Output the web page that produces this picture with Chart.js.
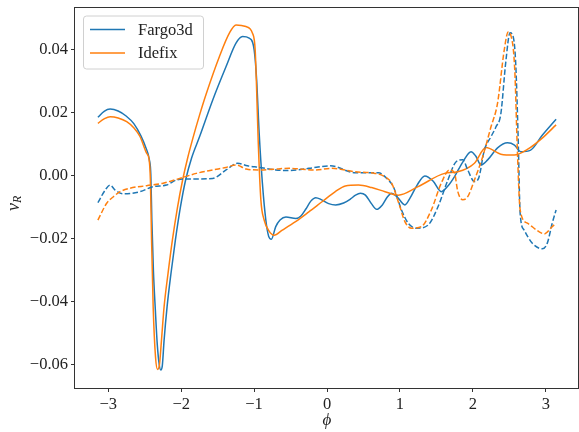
<!DOCTYPE html>
<html>
<head>
<meta charset="utf-8">
<script src="https://cdn.jsdelivr.net/npm/chart.js@4.4.1/dist/chart.umd.min.js"></script>
<style>
  html, body { margin: 0; padding: 0; background: #fff; overflow: hidden; }
</style>
</head>
<body>
<canvas id="vrChart" width="579" height="432"></canvas>
<script>
// radial velocity along phi, two codes, two snapshots (solid / dashed)
const fargoPhi = [-3.142, -3.056, -2.974, -2.864, -2.755, -2.647, -2.552, -2.484, -2.436, -2.416, -2.402, -2.381, -2.354, -2.327, -2.300, -2.279, -2.259, -2.234, -2.193, -2.139, -2.079, -2.011, -1.939, -1.857, -1.748, -1.567, -1.384, -1.248, -1.158, -1.067, -0.999, -0.965, -0.930, -0.886, -0.839, -0.801, -0.763, -0.703, -0.644, -0.563, -0.426, -0.358, -0.290, -0.222, -0.154, -0.072, 0.023, 0.119, 0.228, 0.323, 0.391, 0.459, 0.527, 0.609, 0.681, 0.759, 0.827, 0.886, 0.963, 1.068, 1.140, 1.236, 1.341, 1.454, 1.567, 1.658, 1.749, 1.862, 1.975, 2.040, 2.112, 2.203, 2.339, 2.475, 2.571, 2.657, 2.793, 2.952, 3.142];
const fargoVr = [0.0184, 0.0203, 0.0210, 0.0204, 0.0188, 0.0163, 0.0125, 0.0087, 0.0049, 0.0001, -0.0142, -0.0301, -0.0428, -0.0539, -0.0602, -0.0618, -0.0605, -0.0523, -0.0417, -0.0310, -0.0205, -0.0102, -0.0015, 0.0055, 0.0122, 0.0239, 0.0345, 0.0419, 0.0440, 0.0435, 0.0398, 0.0303, 0.0133, -0.0025, -0.0142, -0.0193, -0.0203, -0.0163, -0.0142, -0.0132, -0.0137, -0.0129, -0.0107, -0.0082, -0.0071, -0.0078, -0.0090, -0.0094, -0.0088, -0.0075, -0.0063, -0.0057, -0.0063, -0.0090, -0.0108, -0.0094, -0.0069, -0.0057, -0.0069, -0.0094, -0.0072, -0.0031, -0.0002, -0.0018, -0.0052, -0.0034, -0.0004, 0.0042, 0.0075, 0.0061, 0.0033, 0.0049, 0.0087, 0.0103, 0.0096, 0.0075, 0.0080, 0.0127, 0.0178];

const idefixPhi = [-3.142, -3.056, -2.974, -2.864, -2.747, -2.647, -2.565, -2.474, -2.439, -2.422, -2.406, -2.384, -2.352, -2.324, -2.300, -2.270, -2.234, -2.180, -2.120, -2.052, -1.980, -1.911, -1.839, -1.748, -1.657, -1.475, -1.339, -1.248, -1.112, -1.022, -0.985, -0.965, -0.944, -0.907, -0.862, -0.794, -0.726, -0.613, -0.431, -0.249, -0.068, 0.114, 0.251, 0.432, 0.613, 0.796, 0.977, 1.249, 1.613, 1.794, 2.022, 2.180, 2.384, 2.567, 2.748, 2.952, 3.142];
const idefixVr = [0.0165, 0.0179, 0.0186, 0.0182, 0.0170, 0.0150, 0.0123, 0.0070, 0.0049, -0.0015, -0.0205, -0.0417, -0.0576, -0.0616, -0.0605, -0.0523, -0.0417, -0.0311, -0.0205, -0.0104, -0.0015, 0.0055, 0.0118, 0.0191, 0.0258, 0.0377, 0.0451, 0.0477, 0.0472, 0.0451, 0.0398, 0.0271, 0.0112, -0.0078, -0.0142, -0.0177, -0.0190, -0.0174, -0.0147, -0.0116, -0.0084, -0.0052, -0.0034, -0.0031, -0.0039, -0.0052, -0.0063, -0.0036, 0.0006, 0.0011, 0.0038, 0.0088, 0.0067, 0.0064, 0.0082, 0.0118, 0.0160];

const fargoPhi2 = [-3.142, -3.042, -2.974, -2.906, -2.793, -2.565, -2.384, -2.202, -2.065, -1.929, -1.567, -1.384, -1.226, -1.090, -0.930, -0.703, -0.522, -0.249, 0.046, 0.387, 0.704, 0.841, 0.909, 1.022, 1.113, 1.226, 1.386, 1.522, 1.658, 1.771, 1.862, 1.930, 2.022, 2.080, 2.158, 2.248, 2.316, 2.384, 2.452, 2.510, 2.557, 2.589, 2.621, 2.649, 2.703, 2.816, 2.952, 3.020, 3.089, 3.142];
const fargoVr2 = [-0.0087, -0.0047, -0.0031, -0.0047, -0.0059, -0.0052, -0.0036, -0.0031, -0.0015, -0.0012, -0.0010, 0.0017, 0.0038, 0.0030, 0.0025, 0.0017, 0.0015, 0.0022, 0.0030, 0.0008, 0.0008, -0.0015, -0.0036, -0.0110, -0.0152, -0.0168, -0.0158, -0.0100, -0.0015, 0.0043, 0.0049, 0.0017, -0.0020, -0.0009, 0.0080, 0.0122, 0.0153, 0.0195, 0.0360, 0.0452, 0.0436, 0.0350, 0.0123, -0.0121, -0.0174, -0.0216, -0.0233, -0.0216, -0.0152, -0.0110];

const idefixPhi2 = [-3.142, -3.019, -2.929, -2.838, -2.702, -2.474, -2.248, -2.020, -1.793, -1.567, -1.384, -1.248, -1.108, -0.930, -0.749, -0.522, -0.158, 0.068, 0.387, 0.659, 0.772, 0.886, 1.000, 1.068, 1.158, 1.294, 1.431, 1.567, 1.681, 1.749, 1.794, 1.862, 1.930, 2.022, 2.135, 2.248, 2.339, 2.431, 2.485, 2.520, 2.575, 2.612, 2.649, 2.748, 2.907, 2.980, 3.089, 3.142];
const idefixVr2 = [-0.0142, -0.0088, -0.0068, -0.0052, -0.0041, -0.0033, -0.0025, -0.0010, 0.0006, 0.0017, 0.0025, 0.0033, 0.0020, 0.0017, 0.0019, 0.0022, 0.0017, 0.0022, 0.0011, 0.0006, -0.0002, -0.0025, -0.0100, -0.0147, -0.0168, -0.0163, -0.0110, -0.0025, 0.0017, 0.0007, -0.0052, -0.0078, -0.0068, -0.0015, 0.0059, 0.0153, 0.0229, 0.0398, 0.0455, 0.0445, 0.0334, 0.0070, -0.0110, -0.0152, -0.0179, -0.0186, -0.0163, -0.0152];

const xTicks = [-3, -2, -1, 0, 1, 2, 3];
const yTicks = [-0.06, -0.04, -0.02, 0.00, 0.02, 0.04];

const BLUE = '#1f77b4';
const ORANGE = '#ff7f0e';
const SERIF = "'Liberation Serif', 'DejaVu Serif', serif";

function toPoints(xs, ys) {
    return xs.map((x, i) => ({ x: x, y: ys[i] }));
}

function minus(s) {
    return s.replace('-', '\u2212');
}

function line(label, xs, ys, color, dashed, order) {
    return {
        label: label,
        data: toPoints(xs, ys),
        borderColor: color,
        backgroundColor: color,
        borderWidth: 1.5,
        borderDash: dashed ? [5.5, 2.4] : [],
        pointRadius: 0,
        cubicInterpolationMode: 'monotone',
        fill: false,
        order: order
    };
}

// frame, hand-drawn legend and the v_R axis label
const decor = {
    id: 'decor',
    afterDatasetsDraw(chart) {
        const ctx = chart.ctx;
        const a = chart.chartArea;
        ctx.save();

        ctx.strokeStyle = '#333';
        ctx.lineWidth = 1;
        ctx.strokeRect(Math.round(a.left) - 0.5, Math.round(a.top) + 0.5,
            a.right - a.left, a.bottom - a.top);

        // legend box
        const bx = a.left + 8, by = a.top + 8.5, bw = 120, bh = 53;
        ctx.beginPath();
        ctx.roundRect(bx + 0.5, by + 0.5, bw, bh, 3);
        ctx.fillStyle = 'rgba(255,255,255,0.8)';
        ctx.fill();
        ctx.strokeStyle = '#d0d0d0';
        ctx.stroke();

        const entries = chart.data.datasets.filter(d => !d.borderDash.length);
        entries.forEach((d, i) => {
            const y = by + 14 + i * 23.4;
            ctx.beginPath();
            ctx.strokeStyle = d.borderColor;
            ctx.lineWidth = 1.5;
            ctx.moveTo(bx + 7, y);
            ctx.lineTo(bx + 42, y);
            ctx.stroke();
            ctx.fillStyle = '#222';
            ctx.font = '16.5px ' + SERIF;
            ctx.textBaseline = 'middle';
            ctx.textAlign = 'left';
            ctx.fillText(d.label, bx + 55, y + 1);
        });

        // y title: v with subscript R
        ctx.translate(15, 203);
        ctx.rotate(-Math.PI / 2);
        ctx.fillStyle = '#222';
        ctx.textBaseline = 'middle';
        ctx.textAlign = 'left';
        ctx.font = 'italic 18px ' + SERIF;
        ctx.fillText('v', -8, -1);
        ctx.font = 'italic 12px ' + SERIF;
        ctx.fillText('R', 0, 3);
        ctx.restore();
    }
};

const ctx = document.getElementById('vrChart').getContext('2d');
const chart = new Chart(ctx, {
    type: 'line',
    data: {
        datasets: [
            line('Fargo3d', fargoPhi, fargoVr, BLUE, false, 4),
            line('Idefix', idefixPhi, idefixVr, ORANGE, false, 3),
            line('Fargo3d', fargoPhi2, fargoVr2, BLUE, true, 2),
            line('Idefix', idefixPhi2, idefixVr2, ORANGE, true, 1)
        ]
    },
    options: {
        responsive: false,
        animation: false,
        // right edge of the axes sits just past the canvas
        layout: { padding: { top: 7, right: -3, left: 0, bottom: 0 } },
        plugins: {
            legend: { display: false },
            tooltip: { enabled: false }
        },
        scales: {
            x: {
                type: 'linear',
                min: -3.456,
                max: 3.456,
                afterBuildTicks: s => { s.ticks = xTicks.map(v => ({ value: v })); },
                afterFit: s => {
                    s.height = 44;
                    s.paddingLeft = 0;
                    s.paddingRight = 0;
                },
                border: { display: false },
                grid: {
                    drawOnChartArea: false,
                    drawTicks: true,
                    tickLength: 4,
                    tickColor: '#333'
                },
                ticks: {
                    color: '#222',
                    padding: 3,
                    maxRotation: 0,
                    font: { family: SERIF, size: 16.5 },
                    callback: v => minus(String(v))
                },
                title: {
                    display: true,
                    text: '\u03d5',
                    color: '#222',
                    padding: { top: 0, bottom: 1 },
                    font: { family: SERIF, size: 17, style: 'italic' }
                }
            },
            y: {
                min: -0.0675,
                max: 0.0534,
                afterBuildTicks: s => { s.ticks = yTicks.map(v => ({ value: v })); },
                afterFit: s => {
                    s.width = 75;
                    s.paddingTop = 0;
                    s.paddingBottom = 0;
                },
                border: { display: false },
                grid: {
                    drawOnChartArea: false,
                    drawTicks: true,
                    tickLength: 4,
                    tickColor: '#333'
                },
                ticks: {
                    color: '#222',
                    padding: 3,
                    font: { family: SERIF, size: 16.5 },
                    callback: v => minus(v.toFixed(2))
                }
            }
        }
    },
    plugins: [decor]
});
</script>
</body>
</html>
